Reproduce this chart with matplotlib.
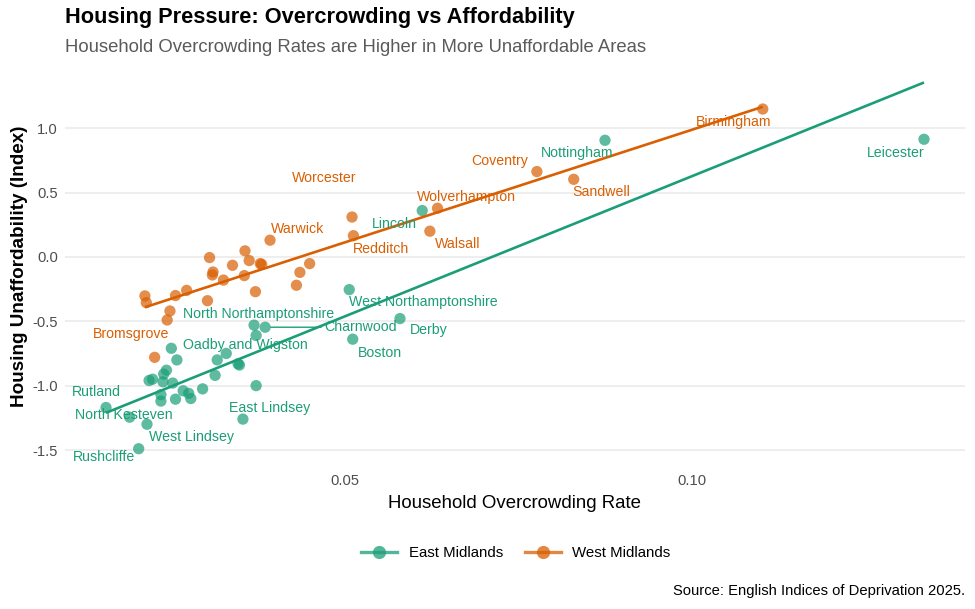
import matplotlib
matplotlib.use("Agg")
import matplotlib.pyplot as plt
from matplotlib.lines import Line2D
import numpy as np

plt.rcParams['font.family'] = ['Liberation Sans', 'DejaVu Sans']
plt.rcParams['axes.unicode_minus'] = False

# East Midlands: overcrowding rate, unaffordability index, label
em_x = [0.0157, 0.0191, 0.0216, 0.0204, 0.0219, 0.0224, 0.0244, 0.0240, 0.0239,
        0.0253, 0.0236, 0.0236, 0.0251, 0.0259, 0.0257, 0.0268, 0.0276, 0.0279,
        0.0296, 0.0314, 0.0317, 0.0330, 0.0347, 0.0349, 0.0354, 0.0373, 0.0370,
        0.0373, 0.0386, 0.0507, 0.0512, 0.0580, 0.0612, 0.0875, 0.1334]
em_y = [-1.17, -1.245, -1.30, -1.49, -0.96, -0.95, -0.88, -0.91, -0.97,
        -0.98, -1.07, -1.12, -0.71, -0.80, -1.105, -1.04, -1.06, -1.10,
        -1.025, -0.92, -0.80, -0.75, -0.83, -0.84, -1.26, -1.00, -0.53,
        -0.61, -0.546, -0.254, -0.639, -0.479, 0.36, 0.906, 0.914]
em_names = ["Rutland", "North Kesteven", "West Lindsey", "Rushcliffe"] + [None] * 20 + \
           ["East Lindsey", None, "North Northamptonshire", "Oadby and Wigston", "Charnwood",
            "West Northamptonshire", "Boston", "Derby", "Lincoln", "Nottingham", "Leicester"]

# West Midlands
wm_x = [0.0213, 0.0215, 0.0249, 0.0245, 0.0227, 0.0257, 0.0273, 0.0303, 0.0306,
        0.0311, 0.0310, 0.0326, 0.0339, 0.0357, 0.0363, 0.0356, 0.0372, 0.0379,
        0.0381, 0.0393, 0.0431, 0.0436, 0.0450, 0.0511, 0.0513, 0.0623, 0.0634,
        0.0777, 0.0830, 0.1102]
wm_y = [-0.303, -0.355, -0.42, -0.49, -0.78, -0.30, -0.26, -0.34, -0.005,
        -0.117, -0.14, -0.18, -0.065, 0.047, -0.028, -0.145, -0.27, -0.052,
        -0.058, 0.13, -0.22, -0.12, -0.052, 0.31, 0.165, 0.20, 0.378,
        0.663, 0.603, 1.149]
wm_names = [None] * 4 + ["Bromsgrove"] + [None] * 14 + ["Warwick", None, None, None,
            "Worcester", "Redditch", "Walsall", "Wolverhampton", "Coventry", "Sandwell", "Birmingham"]

# label nudges in pixels (dx, dy), mimicking the repel layout
offsets = {
    "Rutland": (-10, 16), "North Kesteven": (-6, 2), "West Lindsey": (44, -13),
    "Rushcliffe": (-35, -8), "East Lindsey": (27, 11), "North Northamptonshire": (5, 11),
    "Oadby and Wigston": (-11, -10), "Charnwood": (95, 0), "West Northamptonshire": (74, -12),
    "Boston": (27, -14), "Derby": (29, -11), "Lincoln": (-28, -13), "Nottingham": (-28, -13),
    "Leicester": (-28, -14), "Bromsgrove": (-24, 23), "Warwick": (28, 11),
    "Worcester": (-28, 39), "Redditch": (28, -13), "Walsall": (28, -13),
    "Wolverhampton": (29, 11), "Coventry": (-37, 11), "Sandwell": (28, -13),
    "Birmingham": (-29, -13),
}

EM_COL = "#1B9E77"
WM_COL = "#D95F02"

fig = plt.figure(figsize=(9.75, 6.09), dpi=100)
ax = fig.add_axes([65 / 975, 1 - 467 / 609, 900 / 975, 402 / 609])

for xs, ys, names, col in [(em_x, em_y, em_names, EM_COL), (wm_x, wm_y, wm_names, WM_COL)]:
    xs = np.array(xs)
    ys = np.array(ys)
    ax.scatter(xs, ys, s=66, color=col, alpha=0.7, edgecolors='none', zorder=3)
    k, b = np.polyfit(xs, ys, 1)
    xl = np.array([xs.min(), xs.max()])
    ax.plot(xl, k * xl + b, color=col, lw=1.9, zorder=4, solid_capstyle='butt')
    for x, y, n in zip(xs, ys, names):
        if n is None:
            continue
        dx, dy = offsets[n]
        arrow = None
        if n == "Charnwood":
            arrow = dict(arrowstyle='-', color=col, lw=1.0, shrinkA=0, shrinkB=4)
        ax.annotate(n, (x, y), xytext=(dx, dy), textcoords='offset pixels',
                    ha='center', va='center', fontsize=10.2, color=col, zorder=5,
                    arrowprops=arrow)

ax.set_xlim(0.0098, 0.1393)
ax.set_ylim(-1.632, 1.491)
ax.set_xticks([0.05, 0.10])
ax.set_xticklabels(["0.05", "0.10"])
ax.set_yticks([-1.5, -1.0, -0.5, 0.0, 0.5, 1.0])
ax.set_yticklabels(["-1.5", "-1.0", "-0.5", "0.0", "0.5", "1.0"])
ax.tick_params(length=0, labelsize=10.6, labelcolor="#4D4D4D", pad=5)
ax.grid(axis='y', color="#EBEBEB", lw=1.2)
ax.set_axisbelow(True)
for s in ax.spines.values():
    s.set_visible(False)

ax.set_xlabel("Household Overcrowding Rate", fontsize=13.4, labelpad=5)
ax.set_ylabel("Housing Unaffordability (Index)", fontsize=13.6, fontweight='bold', labelpad=3)

fig.text(65 / 975, 1 - 18 / 609, "Housing Pressure: Overcrowding vs Affordability",
         fontsize=15.7, fontweight='bold', va='center', ha='left')
fig.text(65 / 975, 1 - 47 / 609, "Household Overcrowding Rates are Higher in More Unaffordable Areas",
         fontsize=13.3, color="#5A5A5A", va='center', ha='left')
fig.text(965 / 975, 1 - 591 / 609, "Source: English Indices of Deprivation 2025.",
         fontsize=10.6, ha='right', va='center')

handles = [Line2D([], [], color=EM_COL, lw=2.4, marker='o', markersize=9.5, alpha=0.75,
                  markeredgecolor='none'),
           Line2D([], [], color=WM_COL, lw=2.4, marker='o', markersize=9.5, alpha=0.75,
                  markeredgecolor='none')]
fig.legend(handles, ["East Midlands", "West Midlands"], loc='center',
           bbox_to_anchor=(516 / 975, 1 - 553 / 609), ncol=2, frameon=False,
           fontsize=10.8, handlelength=2.4, columnspacing=1.4, handletextpad=0.8)

fig.savefig("out.png", dpi=100)
